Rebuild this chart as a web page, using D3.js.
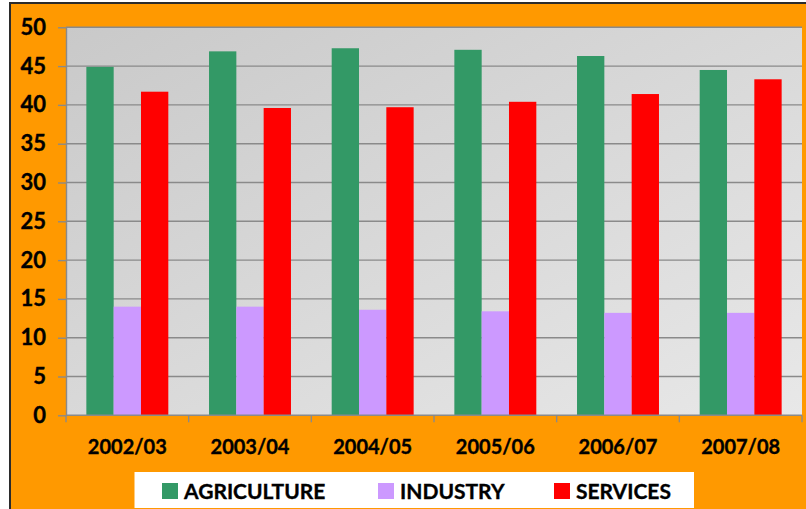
<!DOCTYPE html>
<html>
<head>
<meta charset="utf-8">
<script src="https://cdn.jsdelivr.net/npm/d3@7"></script>
<style>
  html, body { margin: 0; padding: 0; background: #ffffff; }
  svg { display: block; font-family: Lato, "Open Sans", sans-serif; }
  .lbl { paint-order: stroke; stroke: #000; stroke-width: 0.35px; }
</style>
</head>
<body>
<svg id="chart" width="806" height="509"></svg>
<script>
// Share of each sector by year (%)
const years = ["2002/03", "2003/04", "2004/05", "2005/06", "2006/07", "2007/08"];
const sectors = ["AGRICULTURE", "INDUSTRY", "SERVICES"];
const agriculture = [44.9, 46.9, 47.3, 47.1, 46.3, 44.5];
const industry    = [14.0, 14.0, 13.6, 13.4, 13.2, 13.2];
const services    = [41.7, 39.6, 39.7, 40.4, 41.4, 43.3];
const yTicks = [0, 5, 10, 15, 20, 25, 30, 35, 40, 45, 50];
const sectorColors = ["#339966", "#cc99ff", "#ff0000"];

const seriesValues = [agriculture, industry, services];
const rows = years.map((y, i) => ({ year: y, values: sectors.map((s, k) => ({ sector: s, value: seriesValues[k][i] })) }));

const svg = d3.select("#chart");
const W = 806, H = 509;
const plot = { left: 66, top: 27.3, right: 802, bottom: 415.3 };

// Frame: outer border and orange chart area
svg.append("rect").attr("x", 0).attr("y", 0).attr("width", W).attr("height", H).attr("fill", "#ffffff");
svg.append("rect").attr("x", 10).attr("y", 3).attr("width", W).attr("height", H)
  .attr("fill", "#ff9900").attr("stroke", "#2b2b2b").attr("stroke-width", 2);

// Plot background gradient
const defs = svg.append("defs");
const grad = defs.append("linearGradient").attr("id", "plotBg")
  .attr("x1", "0").attr("y1", "0").attr("x2", "1").attr("y2", "1");
grad.append("stop").attr("offset", "0%").attr("stop-color", "#c9c9c9");
grad.append("stop").attr("offset", "100%").attr("stop-color", "#e8e8e8");

svg.append("rect")
  .attr("x", plot.left).attr("y", plot.top)
  .attr("width", plot.right - plot.left).attr("height", plot.bottom - plot.top)
  .attr("fill", "url(#plotBg)");

const x0 = d3.scaleBand().domain(years).range([plot.left, plot.right]).padding(0);
const x1 = d3.scaleBand().domain(sectors).range([0, x0.bandwidth()]).paddingInner(0).paddingOuter(0.745);
const y = d3.scaleLinear().domain([0, 50]).range([plot.bottom, plot.top]);
const color = d3.scaleOrdinal().domain(sectors).range(sectorColors);

// Gridlines
svg.append("g").selectAll("line").data(yTicks.filter(t => t > 0)).join("line")
  .attr("x1", plot.left).attr("x2", plot.right)
  .attr("y1", d => y(d)).attr("y2", d => y(d))
  .attr("stroke", "#8a8a8a").attr("stroke-width", 1.4);

// Bars
svg.append("g").selectAll("g").data(rows).join("g")
  .attr("transform", d => `translate(${x0(d.year)},0)`)
  .selectAll("rect").data(d => d.values).join("rect")
  .attr("x", d => x1(d.sector))
  .attr("width", x1.bandwidth())
  .attr("y", d => y(d.value))
  .attr("height", d => y(0) - y(d.value))
  .attr("fill", d => color(d.sector));

// Y axis
const yAxis = svg.append("g").attr("transform", `translate(${plot.left},0)`)
  .call(d3.axisLeft(y).tickValues(yTicks).tickSize(8).tickSizeOuter(0).tickPadding(12));
yAxis.select(".domain").attr("stroke", "#8a8a8a").attr("stroke-width", 1.4);
yAxis.selectAll(".tick line").attr("stroke", "#8a8a8a").attr("stroke-width", 1.4);
yAxis.selectAll(".tick text").attr("class", "lbl").attr("fill", "#000").attr("font-size", 22).attr("font-weight", 700)
  .attr("font-family", "Lato, sans-serif");

// X axis: ticks at category boundaries, labels centered in each band
const xAxisG = svg.append("g").attr("transform", `translate(0,${plot.bottom})`);
xAxisG.append("line").attr("x1", plot.left).attr("x2", plot.right).attr("y1", 0).attr("y2", 0)
  .attr("stroke", "#8a8a8a").attr("stroke-width", 1.4);
const boundaries = years.map(yr => x0(yr)).concat([x0(years[years.length - 1]) + x0.bandwidth()]);
xAxisG.selectAll("line.tk").data(boundaries).join("line").attr("class", "tk")
  .attr("x1", d => d).attr("x2", d => d).attr("y1", 0).attr("y2", 7)
  .attr("stroke", "#8a8a8a").attr("stroke-width", 1.4);
xAxisG.selectAll("text").data(years).join("text")
  .attr("class", "lbl")
  .attr("x", d => x0(d) + x0.bandwidth() / 2)
  .attr("y", 39)
  .attr("text-anchor", "middle")
  .attr("font-size", 20).attr("font-weight", 700).attr("fill", "#000")
  .text(d => d);

// Legend
const legend = svg.append("g");
legend.append("rect").attr("x", 134.5).attr("y", 472).attr("width", 559.5).attr("height", 36).attr("fill", "#ffffff");
const legendX = [162, 378, 554];
const items = legend.selectAll("g.item").data(sectors).join("g").attr("class", "item")
  .attr("transform", (d, i) => `translate(${legendX[i]},483)`);
items.append("rect").attr("width", 16).attr("height", 16).attr("fill", d => color(d));
items.append("text").attr("class", "lbl").attr("x", 22).attr("y", 16)
  .attr("font-size", 21).attr("font-weight", 700).attr("fill", "#000")
  .text(d => d);
</script>
</body>
</html>
